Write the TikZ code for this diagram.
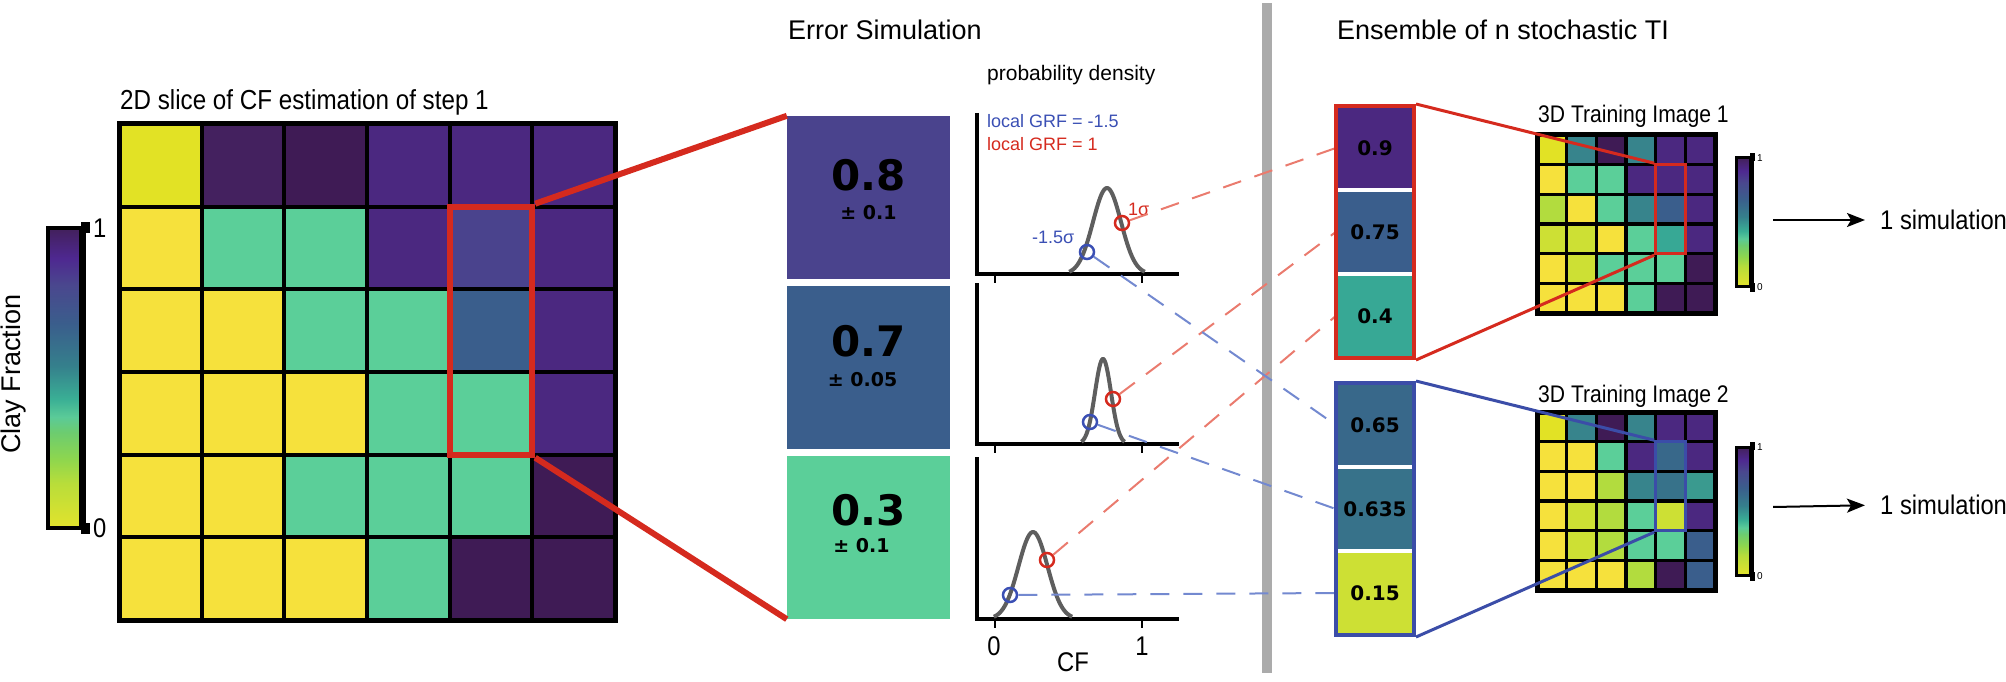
\documentclass[tikz,border=0pt]{standalone}
\usepackage{fontspec}
\setmainfont{Liberation Sans}
\newfontfamily\narrowfont{Liberation Sans}[FakeStretch=0.88]
\newfontfamily\heavyfont{DejaVu Sans}
\usetikzlibrary{calc,arrows.meta,positioning}

\definecolor{cfYa}{HTML}{E2E225}
\definecolor{cfY}{HTML}{F6E13C}
\definecolor{cfG}{HTML}{5BCF99}
\definecolor{cfP}{HTML}{4B2880}
\definecolor{cfDPa}{HTML}{44215F}
\definecolor{cfDPb}{HTML}{3F1B55}
\definecolor{cfBP}{HTML}{4A438D}
\definecolor{cfB}{HTML}{3A5E8C}
\definecolor{cfT}{HTML}{37A895}
\definecolor{cfTB}{HTML}{38688A}
\definecolor{cfTC}{HTML}{37728A}
\definecolor{cfTG}{HTML}{3A9A8F}
\definecolor{cfLG}{HTML}{B2DC3E}
\definecolor{cfYG}{HTML}{CDE034}
\definecolor{tiTeal}{HTML}{37848C}
\definecolor{zred}{HTML}{D52A1E}
\definecolor{zblue}{HTML}{3B4DA8}
\definecolor{ringblue}{HTML}{3A4FB4}
\definecolor{dashred}{HTML}{EA7B6E}
\definecolor{dashblue}{HTML}{7389D0}
\definecolor{curvegray}{HTML}{5E5E5E}
\definecolor{divgray}{HTML}{ABABAB}
\definecolor{barA}{HTML}{E3E32C}
\definecolor{barB}{HTML}{B8DD3A}
\definecolor{barC}{HTML}{8ED64E}
\definecolor{barD}{HTML}{6CCC70}
\definecolor{barE}{HTML}{5BCB98}
\definecolor{barF}{HTML}{3AAF95}
\definecolor{barG}{HTML}{35808C}
\definecolor{barH}{HTML}{3A5E8C}
\definecolor{barI}{HTML}{4A478E}
\definecolor{barJ}{HTML}{4E2890}
\definecolor{barK}{HTML}{42205B}
% the path is fitted to the middle 50bp of the shading
\pgfdeclareverticalshading{cfbar}{100bp}{color(0bp)=(barA); color(25bp)=(barA); color(32.5bp)=(barB); color(36.5bp)=(barC); color(41bp)=(barD); color(43.5bp)=(barE); color(46.5bp)=(barF); color(52bp)=(barG); color(59bp)=(barH); color(65.5bp)=(barI); color(70bp)=(barJ); color(75bp)=(barK); color(100bp)=(barK)}

\begin{document}
\begin{tikzpicture}[x=1pt,y=-1pt,
    heading/.style={font=\fontsize{27}{32}\selectfont, inner sep=0pt, anchor=base west},
    narrowtxt/.style={font=\narrowfont\fontsize{27}{32}\selectfont, inner sep=0pt},
    smalltxt/.style={font=\fontsize{18}{22}\selectfont, inner sep=0pt, anchor=base west},
    tinytxt/.style={font=\fontsize{10}{12}\selectfont, inner sep=0pt, anchor=west},
    cellline/.style={line width=4pt},
    tiline/.style={line width=3.5pt},
    zoomline/.style={zred, line width=6pt},
    valbox/.style={rectangle, minimum width=163pt, minimum height=163pt, inner sep=0pt},
    bignum/.style={font=\heavyfont\bfseries\fontsize{42}{46}\selectfont, inner sep=0pt},
    errnum/.style={font=\heavyfont\bfseries\fontsize{19}{22}\selectfont, inner sep=0pt},
    axisline/.style={line width=4pt},
    pdfcurve/.style={curvegray, line width=4pt, domain=-2.7:2.7, samples=60, smooth},
    sigmaring/.style={circle, line width=2.5pt, minimum size=14pt, inner sep=0pt},
    linkdash/.style={line width=2pt, dash pattern=on 19pt off 14pt},
    colcell/.style={rectangle, minimum width=78pt, minimum height=84pt, inner sep=0pt, font=\heavyfont\bfseries\fontsize{20}{24}\selectfont},
    colframe/.style={rectangle, line width=4pt, minimum width=78pt, minimum height=252pt, inner sep=0pt},
    tiframe/.style={rectangle, line width=3pt, minimum width=29.67pt, minimum height=89pt, inner sep=0pt},
  ]
  \useasboundingbox (0,0) rectangle (2006,682);

  % divider
  \draw[line width=10pt, divgray] (1267,3) -- (1267,673);

  % 2D slice
  \node[narrowtxt, font=\narrowfont\fontsize{27.5}{32}\selectfont, anchor=base west] (sliceTitle) at (120,110) {2D slice of CF estimation of step 1};
  \foreach \row [count=\j from 0] in {{cfYa,cfDPa,cfDPb,cfP,cfP,cfP},{cfY,cfG,cfG,cfP,cfBP,cfP},{cfY,cfY,cfG,cfG,cfB,cfP},{cfY,cfY,cfY,cfG,cfG,cfP},{cfY,cfY,cfG,cfG,cfG,cfDPb},{cfY,cfY,cfY,cfG,cfDPb,cfDPb}}
    \foreach \col [count=\i from 0] in \row
      \fill[\col] (119+\i*82.67,124+\j*82.67) rectangle ++(82.67,82.67);
  \foreach \k in {0,...,6} {
    \draw[cellline] (119+\k*82.67,124) -- ++(0,496);
    \draw[cellline] (119,124+\k*82.67) -- ++(496,0);
  }
  \draw[line width=5pt] (119,124) rectangle (615,620);

  % colour bar
  \shade[shading=cfbar] (48,228) rectangle (81,528);
  \draw[line width=4pt] (48,228) rectangle (81,528);
  \draw[line width=5pt] (83,226) -- (83,530);
  \fill (81,222) rectangle (90,233);
  \fill (81,523) rectangle (90,534);
  \node[narrowtxt, anchor=west] (cbTop) at (93,228) {1};
  \node[narrowtxt, anchor=west] (cbBot) at (93,528) {0};
  \node[font=\fontsize{27}{32}\selectfont, inner sep=0pt, rotate=90] (cbLabel) at (14,374) {Clay Fraction};

  % error simulation
  \node[heading] (errTitle) at (788,40) {Error Simulation};
  \node[valbox, fill=cfBP] (box1) at (868.5,197.5) {};
  \node[valbox, fill=cfB] (box2) at (868.5,367.5) {};
  \node[valbox, fill=cfG] (box3) at (868.5,537.5) {};
  \node[bignum] (m1) at ([yshift=22pt]box1.center) {0.8};
  \node[errnum] (e1) at ([yshift=-15pt]box1.center) {± 0.1};
  \node[bignum] (m2) at ([yshift=26pt]box2.center) {0.7};
  \node[errnum] (e2) at ([xshift=-6pt,yshift=-12.5pt]box2.center) {± 0.05};
  \node[bignum] (m3) at ([yshift=27.5pt]box3.center) {0.3};
  \node[errnum] (e3) at ([xshift=-7pt,yshift=-8pt]box3.center) {± 0.1};

  \node[draw=zred, line width=6pt, minimum width=82.67pt, minimum height=248pt, inner sep=0pt] (zoomA) at (490.9,330.7) {};
  \draw[zoomline] (zoomA.north east) -- (box1.north west);
  \draw[zoomline] (zoomA.south east) -- (box3.south west);

  % densities
  \node[font=\fontsize{21}{25}\selectfont, inner sep=0pt, anchor=base west] (pdTitle) at (987,81) {probability density};
  \node[smalltxt, ringblue] (grfB) at (987,128) {local GRF = -1.5};
  \node[smalltxt, zred] (grfR) at (987,151) {local GRF = 1};
  \draw[axisline] (977,113) -- (977,274) -- (1179,274);
  \draw[axisline] (977,283) -- (977,444) -- (1179,444);
  \draw[axisline] (977,457) -- (977,619) -- (1179,619);
  \foreach \yb in {274,444,619} {
    \draw[line width=2pt] (995,\yb) -- (995,\yb+9);
    \draw[line width=2pt] (1142,\yb) -- (1142,\yb+9);
  }
  \node[narrowtxt] (tick0) at (994,646) {0};
  \node[narrowtxt] (tick1) at (1142,646) {1};
  \node[narrowtxt] (cfLabel) at (1073,662) {CF};
  \draw[pdfcurve] plot ({1107+14*\x},{274-86*exp(-0.5*\x*\x)});
  \draw[pdfcurve] plot ({1103+8*\x},{444-85*exp(-0.5*\x*\x)});
  \draw[pdfcurve] plot ({1033+14.5*\x},{619-87*exp(-0.5*\x*\x)});
  \node[smalltxt, zred] (sigR) at (1128,215) {1σ};
  \node[smalltxt, ringblue] (sigB) at (1032,243) {-1.5σ};
  \node[sigmaring, draw=ringblue] (b1) at (1087,252) {};
  \node[sigmaring, draw=zred] (r1) at (1122,223) {};
  \node[sigmaring, draw=ringblue] (b2) at (1090,422) {};
  \node[sigmaring, draw=zred] (r2) at (1113,399) {};
  \node[sigmaring, draw=ringblue] (b3) at (1010,595) {};
  \node[sigmaring, draw=zred] (r3) at (1047,560) {};

  % ensemble columns
  \node[heading] (ensTitle) at (1337,40) {Ensemble of n stochastic TI};
  \node[colcell, fill=cfP] (v09) at (1375,148) {0.9};
  \node[colcell, fill=cfB] (v075) at (1375,232) {0.75};
  \node[colcell, fill=cfT] (v04) at (1375,316) {0.4};
  \node[colcell, fill=cfTB] (v065) at (1375,425) {0.65};
  \node[colcell, fill=cfTC] (v0635) at (1375,509) {0.635};
  \node[colcell, fill=cfYG] (v015) at (1375,593) {0.15};
  \draw[white, line width=4pt] (v09.south west) -- (v09.south east);
  \draw[white, line width=4pt] (v075.south west) -- (v075.south east);
  \draw[white, line width=4pt] (v065.south west) -- (v065.south east);
  \draw[white, line width=4pt] (v0635.south west) -- (v0635.south east);

  \draw[linkdash, dashred] (r1) -- (v09.west);
  \draw[linkdash, dashred] (r2) -- (v075.west);
  \draw[linkdash, dashred] (r3) -- (v04.west);
  \draw[linkdash, dashblue] (b1) -- (v065.west);
  \draw[linkdash, dashblue] (b2) -- (v0635.west);
  \draw[linkdash, dashblue] (b3) -- (v015.west);

  \node[colframe, draw=zred] (colA) at (1375,232) {};
  \node[colframe, draw=zblue] (colB) at (1375,509) {};

  % training images
  \node[narrowtxt, font=\narrowfont\fontsize{24}{28}\selectfont, anchor=base west] (tiTitleA) at (1538,123) {3D Training Image 1};
  \node[narrowtxt, font=\narrowfont\fontsize{24}{28}\selectfont, anchor=base west] (tiTitleB) at (1538,402) {3D Training Image 2};
  \foreach \row [count=\j from 0] in {{cfYa,tiTeal,cfDPb,tiTeal,cfP,cfP},{cfY,cfG,cfG,cfP,cfP,cfP},{cfLG,cfY,cfG,tiTeal,cfB,cfP},{cfYG,cfYG,cfY,cfG,cfT,cfP},{cfY,cfYG,cfG,cfG,cfG,cfDPb},{cfY,cfY,cfY,cfG,cfDPb,cfDPb}}
    \foreach \col [count=\i from 0] in \row
      \fill[\col] (1537+\i*29.67,135+\j*29.67) rectangle ++(29.67,29.67);
  \foreach \row [count=\j from 0] in {{cfYa,tiTeal,cfDPb,tiTeal,cfP,cfP},{cfY,cfY,cfG,cfP,cfTB,cfP},{cfY,cfY,cfLG,tiTeal,cfTC,cfTG},{cfY,cfYG,cfLG,cfG,cfYG,cfP},{cfY,cfYG,cfLG,cfG,cfG,cfB},{cfY,cfY,cfY,cfLG,cfDPb,cfB}}
    \foreach \col [count=\i from 0] in \row
      \fill[\col] (1537+\i*29.67,412+\j*29.67) rectangle ++(29.67,29.67);
  \foreach \k in {0,...,6} {
    \draw[tiline] (1537+\k*29.67,135) -- ++(0,178);
    \draw[tiline] (1537,135+\k*29.67) -- ++(178,0);
    \draw[tiline] (1537+\k*29.67,412) -- ++(0,178);
    \draw[tiline] (1537,412+\k*29.67) -- ++(178,0);
  }
  \draw[line width=5pt] (1537,135) rectangle (1715,313);
  \draw[line width=5pt] (1537,412) rectangle (1715,590);

  \node[tiframe, draw=zred] (tiA) at (1670.5,209.2) {};
  \node[tiframe, draw=zblue] (tiB) at (1670.5,486.2) {};
  \draw[zred, line width=3pt] (colA.north east) -- (tiA.north west);
  \draw[zred, line width=3pt] (colA.south east) -- (tiA.south west);
  \draw[zblue, line width=3pt] (colB.north east) -- (tiB.north west);
  \draw[zblue, line width=3pt] (colB.south east) -- (tiB.south west);

  % small colour bars
  \shade[shading=cfbar] (1736,158) rectangle (1750,286);
  \draw[line width=3pt] (1736,158) rectangle (1750,286);
  \draw[line width=3pt] (1752,155) -- (1752,290);
  \fill (1750,153) rectangle (1755,161);
  \fill (1750,283) rectangle (1755,292);
  \node[tinytxt] (tbA1) at (1757,158) {1};
  \node[tinytxt] (tbA0) at (1757,287) {0};
  \shade[shading=cfbar] (1736,447) rectangle (1750,575);
  \draw[line width=3pt] (1736,447) rectangle (1750,575);
  \draw[line width=3pt] (1752,444) -- (1752,579);
  \fill (1750,442) rectangle (1755,450);
  \fill (1750,572) rectangle (1755,581);
  \node[tinytxt] (tbB1) at (1757,447) {1};
  \node[tinytxt] (tbB0) at (1757,576) {0};

  % outputs
  \coordinate (arrA) at (1773,220);
  \coordinate (arrB) at (1773,507);
  \node[narrowtxt, anchor=west] (simA) at (1880,220) {1 simulation};
  \node[narrowtxt, anchor=west] (simB) at (1880,505) {1 simulation};
  \draw[line width=2pt, -{Stealth[length=18pt,width=14pt,inset=4pt]}, shorten >=15pt] (arrA) -- (simA.west);
  \draw[line width=2pt, -{Stealth[length=18pt,width=14pt,inset=4pt]}, shorten >=15pt] (arrB) -- (simB.west);
\end{tikzpicture}
\end{document}
